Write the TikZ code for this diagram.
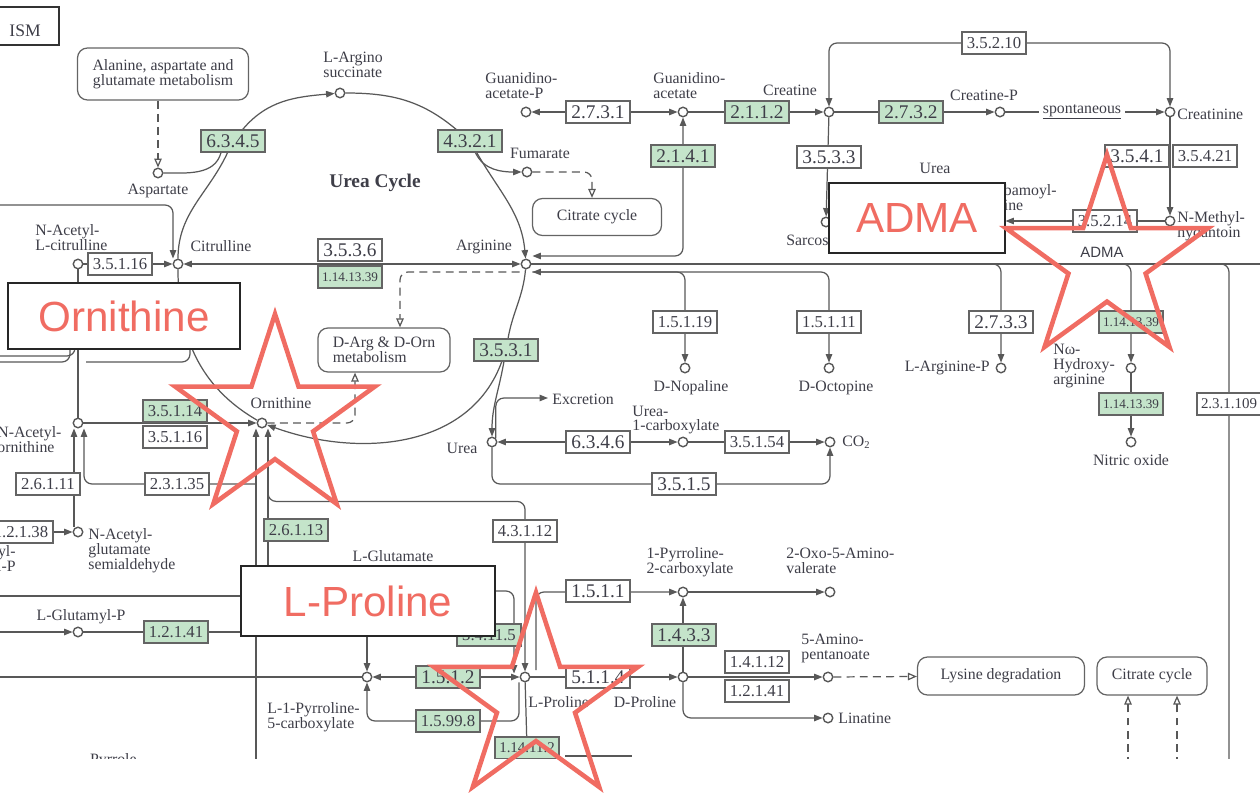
\documentclass[tikz,border=0pt]{standalone}
\usepackage{fontspec}
\setmainfont{Liberation Serif}
\newfontfamily\hlsans{Liberation Sans}
\usetikzlibrary{arrows.meta,calc,shapes.geometric,backgrounds}
\definecolor{keggreen}{RGB}{196,228,202}
\definecolor{lngray}{RGB}{88,88,88}
\definecolor{bxgray}{RGB}{100,100,100}
\definecolor{txgray}{RGB}{62,62,72}
\definecolor{hlred}{RGB}{240,108,98}
\tikzset{
  cpd/.style={circle,draw=lngray,fill=white,line width=0.8pt,minimum size=0.19cm,inner sep=0pt},
  enz/.style={draw=bxgray,fill=white,line width=0.7pt,minimum width=1.28cm,minimum height=0.44cm,inner sep=0pt,text=txgray,font=\fontsize{11}{11}\selectfont},
  genz/.style={enz,fill=keggreen},
  n5/.style={font=\fontsize{9.5}{10}\selectfont},
  n6/.style={font=\fontsize{8.5}{9}\selectfont},
  n7/.style={font=\fontsize{7.5}{8}\selectfont},
  mapbox/.style={draw=bxgray,fill=white,line width=0.7pt,rounded corners=0.2cm,align=center,text=txgray,font=\fontsize{9}{8.5}\selectfont},
  lbl/.style={inner sep=0pt,align=center,text=txgray,font=\fontsize{9}{8.5}\selectfont},
  rxn/.style={draw=lngray,line width=0.7pt,rounded corners=0.16cm},
  rel/.style={rxn,dash pattern=on 4.5pt off 3pt},
  relto/.style={rel,-{Triangle[open,length=1.8mm,width=1.5mm]}},
  relfrom/.style={rel,{Triangle[open,length=1.8mm,width=1.5mm]}-},
  hlbox/.style={draw=black!85,fill=white,line width=0.9pt,text=hlred,font=\hlsans\fontsize{24}{24}\selectfont},
  hlstar/.style={star,star points=5,star point ratio=2.618,draw=hlred,line width=2.6pt,inner sep=0pt},
  >={Triangle[length=1.7mm,width=1.3mm]}
}

\begin{document}
\begin{tikzpicture}[x=0.02cm,y=-0.02cm]
  \useasboundingbox (0,0) rectangle (1260,794);

  % title and linked maps
  \node[draw=black!80,line width=1.3pt,minimum width=1.4cm,minimum height=0.76cm] (ttl) at (24,26) {};
  \node[lbl,font=\fontsize{10}{10}\selectfont,anchor=east] (ttltxt) at (41,31) {ISM};
  \node[mapbox,minimum width=3.42cm,minimum height=1.04cm] (alabox) at (163,74) {Alanine, aspartate and\\glutamate metabolism};
  \node[mapbox,minimum width=2.58cm,minimum height=0.74cm] (cc1) at (597,217) {Citrate cycle};
  \node[mapbox,minimum width=2.64cm,minimum height=0.88cm,align=left] (darg) at (384,350) {D-Arg \& D-Orn\\metabolism};
  \node[mapbox,minimum width=3.34cm,minimum height=0.76cm] (lysbox) at (1001,676) {Lysine degradation};
  \node[mapbox,minimum width=2.2cm,minimum height=0.76cm] (cc2) at (1152,676) {Citrate cycle};
  \node[lbl,font=\bfseries\fontsize{11}{11}\selectfont] (ucyc) at (375,183) {Urea Cycle};

  % compounds
  \node[cpd] (asp) at (158,173) {};
  \node[cpd] (argsuc) at (340,93) {};
  \node[cpd] (fum) at (527,172) {};
  \node[cpd] (cit) at (178,264) {};
  \node[cpd] (nacit) at (78,264) {};
  \node[cpd] (arg) at (526,264) {};
  \node[cpd] (guap) at (526,112) {};
  \node[cpd] (gua) at (683,112) {};
  \node[cpd] (cre) at (829,112) {};
  \node[cpd] (crep) at (1000,112) {};
  \node[cpd] (crn) at (1170,112) {};
  \node[cpd] (nmh) at (1170,221) {};
  \node[cpd] (sar) at (826,222) {};
  \node[cpd] (carsar) at (1000,221) {};
  \node[cpd] (orn) at (262,423) {};
  \node[cpd] (naorn) at (78,423) {};
  \node[cpd] (nagsa) at (78,532) {};
  \node[cpd] (urea) at (492,442) {};
  \node[cpd] (ureac) at (683,442) {};
  \node[cpd] (co2) at (830,442) {};
  \node[cpd] (dnop) at (685,368) {};
  \node[cpd] (doct) at (829,368) {};
  \node[cpd] (argp) at (1001,368) {};
  \node[cpd] (nohar) at (1131,368) {};
  \node[cpd] (nitox) at (1131,442) {};
  \node[cpd] (glup) at (78,632) {};
  \node[cpd] (p5c) at (367,677) {};
  \node[cpd] (pro) at (525,677) {};
  \node[cpd] (dpro) at (683,677) {};
  \node[cpd] (p2c) at (683,592) {};
  \node[cpd] (oxo) at (830,592) {};
  \node[cpd] (amp) at (828,677) {};
  \node[cpd] (lin) at (828,718) {};

  % compound labels
  \node[lbl] (l-asp) at (158,191) {Aspartate};
  \node[lbl,anchor=west,align=left] (l-argsuc) at (323,65) {L-Argino\\succinate};
  \node[lbl] (l-fum) at (540,153) {Fumarate};
  \node[lbl] (l-cit) at (221,246) {Citrulline};
  \node[lbl,anchor=west,align=left] (l-nacit) at (35,238) {N-Acetyl-\\L-citrulline};
  \node[lbl] (l-arg) at (484,247) {Arginine};
  \node[lbl,anchor=west,align=left] (l-guap) at (485,86) {Guanidino-\\acetate-P};
  \node[lbl,anchor=west,align=left] (l-gua) at (653,86) {Guanidino-\\acetate};
  \node[lbl] (l-cre) at (790,90) {Creatine};
  \node[lbl] (l-crep) at (984,95) {Creatine-P};
  \node[lbl,anchor=west] (l-crn) at (1177,114) {Creatinine};
  \node[lbl,anchor=west,align=left] (l-nmh) at (1177,226) {N-Methyl-\\hydantoin};
  \node[lbl] (l-urea2) at (935,168) {Urea};
  \node[lbl,anchor=west,align=left] (l-carsar) at (964,198) {N-Carbamoyl-\\sarcosine};
  \node[lbl,anchor=west] (l-sar) at (786,240) {Sarcosine};
  \node[lbl] (l-orn) at (281,403) {Ornithine};
  \node[lbl,anchor=west,align=left] (l-naorn) at (-3,440) {N-Acetyl-\\ornithine};
  \node[lbl,anchor=north west,align=left] (l-nagsa) at (88,528) {N-Acetyl-\\glutamate\\semialdehyde};
  \node[lbl,anchor=east,align=right] (l-nagp) at (16,560) {N-Acetyl-\\glutamyl-P};
  \node[lbl] (l-glup) at (81,617) {L-Glutamyl-P};
  \node[lbl,anchor=west,align=left] (l-p5c) at (267,717) {L-1-Pyrroline-\\5-carboxylate};
  \node[lbl] (l-pyr) at (116,761) {Pyrrole-};
  \node[lbl] (l-glu) at (393,556) {L-Glutamate};
  \node[lbl] (l-urea) at (462,448) {Urea};
  \node[lbl,anchor=west] (l-excr) at (552,399) {Excretion};
  \node[lbl,anchor=west,align=left] (l-ureac) at (632,420) {Urea-\\1-carboxylate};
  \node[lbl,anchor=west] (l-co2) at (842,442) {CO\textsubscript{2}};
  \node[lbl] (l-dnop) at (691,388) {D-Nopaline};
  \node[lbl] (l-doct) at (836,388) {D-Octopine};
  \node[lbl,anchor=east] (l-argp) at (990,368) {L-Arginine-P};
  \node[lbl,anchor=west,align=left] (l-nohar) at (1053,366) {Nω-\\Hydroxy-\\arginine};
  \node[lbl] (l-nitox) at (1131,460) {Nitric oxide};
  \node[lbl,align=left] (l-p2c) at (690,562) {1-Pyrroline-\\2-carboxylate};
  \node[lbl,anchor=west,align=left] (l-oxo) at (786,561) {2-Oxo-5-Amino-\\valerate};
  \node[lbl,anchor=west,align=left] (l-amp) at (801,648) {5-Amino-\\pentanoate};
  \node[lbl,anchor=west] (l-lin) at (838,718) {Linatine};
  \node[lbl,anchor=west] (l-pro) at (528,702) {L-Proline};
  \node[lbl] (l-dpro) at (645,702) {D-Proline};
  \node[lbl,fill=white,inner xsep=2pt] (l-spont) at (1082,112) {\underline{spontaneous}};
  \node[lbl,font=\hlsans\fontsize{8.5}{9}\selectfont] (l-adma) at (1102,252) {ADMA};

  % enzymes
  \node[genz] (e6345) at (233,141) {6.3.4.5};
  \node[genz] (e4321) at (470,141) {4.3.2.1};
  \node[enz] (e2731) at (598,112) {2.7.3.1};
  \node[genz] (e2112) at (757,112) {2.1.1.2};
  \node[genz] (e2141) at (683,156) {2.1.4.1};
  \node[genz] (e2732) at (911,112) {2.7.3.2};
  \node[enz,n5] (e35210) at (994,43) {3.5.2.10};
  \node[enz] (e3533) at (829,157) {3.5.3.3};
  \node[enz] (e3541) at (1137,156) {3.5.4.1};
  \node[enz,n5] (e35421) at (1205,156) {3.5.4.21};
  \node[enz,n5] (e35214) at (1105,221) {3.5.2.14};
  \node[enz,n5] (e35116a) at (120,264) {3.5.1.16};
  \node[enz] (e3536) at (350,250) {3.5.3.6};
  \node[genz,n7] (e1141339a) at (350,277) {1.14.13.39};
  \node[enz,n5] (e15119) at (685,322) {1.5.1.19};
  \node[enz,n5] (e15111) at (829,322) {1.5.1.11};
  \node[enz] (e2733) at (1001,322) {2.7.3.3};
  \node[genz,n7] (e1141339b) at (1131,322) {1.14.13.39};
  \node[genz,n7] (e1141339c) at (1131,404) {1.14.13.39};
  \node[enz,n6] (e231109) at (1229,404) {2.3.1.109};
  \node[genz] (e3531) at (506,350) {3.5.3.1};
  \node[enz] (e6346) at (598,442) {6.3.4.6};
  \node[enz,n5] (e35154) at (757,442) {3.5.1.54};
  \node[enz] (e3515) at (684,484) {3.5.1.5};
  \node[enz,n5] (e43112) at (525,531) {4.3.1.12};
  \node[genz,n5] (e35114) at (175,411) {3.5.1.14};
  \node[enz,n5] (e35116b) at (175,437) {3.5.1.16};
  \node[enz,n5] (e26111) at (48,484) {2.6.1.11};
  \node[enz,n5] (e23135) at (177,484) {2.3.1.35};
  \node[enz,n5] (e12138) at (21,532) {1.2.1.38};
  \node[genz,n5] (e26113) at (296,530) {2.6.1.13};
  \node[genz,n5] (e12141a) at (176,632) {1.2.1.41};
  \node[genz,n5] (e34115) at (489,635) {3.4.11.5};
  \node[genz] (e1512) at (448,677) {1.5.1.2};
  \node[genz,n5] (e15998) at (448,721) {1.5.99.8};
  \node[enz] (e5114) at (598,677) {5.1.1.4};
  \node[genz,n6] (e114112) at (527,748) {1.14.11.2};
  \node[enz] (e1511) at (598,591) {1.5.1.1};
  \node[genz] (e1433) at (684,635) {1.4.3.3};
  \node[enz,n5] (e14112) at (757,662) {1.4.1.12};
  \node[enz,n5] (e12141b) at (757,691) {1.2.1.41};

  % free ends
  \coordinate (lft205) at (-5,205);
  \coordinate (lft356) at (-5,356);
  \coordinate (lft362) at (-5,362);
  \coordinate (lft532) at (-5,532);
  \coordinate (lft596) at (-5,596);
  \coordinate (lft632) at (-5,632);
  \coordinate (lft677) at (-5,677);
  \coordinate (ob1) at (75,330);
  \coordinate (ob2) at (70,330);
  \coordinate (ob3s) at (86,362);
  \coordinate (ob3) at (190,330);
  \coordinate (rgt264) at (1270,264);
  \coordinate (excr) at (548,398);
  \coordinate (obot) at (256,765);
  \coordinate (j23135) at (256,484);
  \coordinate (glu1) at (268,600);
  \coordinate (glu2) at (300,632);
  \coordinate (glu3) at (300,596);
  \coordinate (glu4) at (480,591);
  \coordinate (glu5) at (367,610);
  \coordinate (rbot) at (1229,765);
  \coordinate (cc2a) at (1128,765);
  \coordinate (cc2b) at (1177,765);
  \coordinate (hyp1) at (565,756);
  \coordinate (hyp2) at (632,756);

  \begin{scope}[on background layer]
    % urea cycle
    \draw[rxn] (cit) to[out=90,in=-115] (e6345);
    \draw[rxn,->] (e6345) to[out=50,in=185] (argsuc);
    \draw[rxn] (argsuc) to[out=0,in=140] (e4321);
    \draw[rxn,->] (e4321) to[out=-60,in=95] (arg);
    \draw[rxn,->] (e4321) to[out=-65,in=180] (fum);
    \draw[rxn] (arg) to[out=-95,in=80] (e3531);
    \draw[rxn,->] (e3531) to[out=-110,in=-20] (orn);
    \draw[rxn] (orn) to[out=150,in=-90] (cit);
    \draw[rxn] (asp) to[out=0,in=-105] ($(e6345.south)+(-12,0)$);
    \draw[relto] (alabox.south -| asp) -- (asp);
    \draw[relto] (fum) -| ($(cc1.north)+(-5,0)$);
    \draw[rxn,->] (lft205) -| ($(cit.north)+(-5,0)$);
    \draw[rxn,->] (nacit) -- (cit);
    \draw[rxn,<->] (arg) -- (cit);
    \draw[relto] ($(arg.west)+(-1,8)$) -| ($(darg.north)+(16,0)$);
    \draw[relfrom] ($(darg.south)+(-29,0)$) |- (orn);

    % creatine
    \draw[rxn,<->] (gua) -- (guap);
    \draw[rxn,->] (gua) -- (cre);
    \draw[rxn,->] (cre) -- (crep);
    \draw[rxn,->] (crep) -- (crn);
    \draw[rxn,<->] (cre) |- (e35210.center) -| (crn);
    \draw[rxn,->] (cre) -- (sar);
    \draw[rxn,->] (crn) -- (nmh);
    \draw[rxn,->] (nmh) -- (carsar);
    \draw[rxn,<->] ($(arg.east)+(1,-8)$) -| (e2141.center) -- (gua);

    % arginine branches
    \draw[rxn] (arg) -- (rgt264);
    \draw[rxn,<->] ($(arg.east)+(1,8)$) -| (e15119.center) -- (dnop);
    \draw[rxn,->] ($(arg.east)+(1,8)$) -| (e15111) -- (doct);
    \draw[rxn,->] (arg) -| (e2733) -- (argp);
    \draw[rxn,->] (arg) -| (e1141339b) -- (nohar);
    \draw[rxn,->] (nohar) -- (e1141339c) -- (nitox);
    \draw[rxn] (arg) -| (e231109) -- (rbot);

    % urea
    \draw[rxn,->] (e3531) to[out=-100,in=90] (urea);
    \draw[rxn,->] (urea.north east) |- (excr);
    \draw[rxn,<->] (urea) -- (ureac);
    \draw[rxn,->] (ureac) -- (co2);
    \draw[rxn,->] (urea) |- (e3515) -| (co2);

    % ornithine side
    \draw[rxn] (nacit) -- (naorn);
    \draw[rxn] (lft356) -| (ob1);
    \draw[rxn] (lft362) -| (ob2);
    \draw[rxn] (ob3s) -| (ob3);
    \draw[rxn,->] (naorn) -- (orn);
    \draw[rxn,->] ($(nagsa.north)+(-4,0)$) -- ($(naorn.south)+(-4,0)$);
    \draw[rxn,->] (j23135) -- (e23135) -| ($(naorn.south)+(6,0)$);
    \draw[rxn,->] (lft532) -- (nagsa);
    \draw[rxn,->] (obot) -- ($(orn.south)+(-6,0)$);
    \draw[rxn,->] (glu1) -- ($(orn.south)+(6,0)$);
    \draw[rxn,->] ($(orn.south)+(6,8)$) |- ($(e43112.north)+(0,-18)$) -- (pro);

    % proline
    \draw[rxn,->] (lft632) -- (glup);
    \draw[rxn] (glup) -- (glu2);
    \draw[rxn] (lft596) -- (glu3);
    \draw[rxn] (lft677) -- (p5c);
    \draw[rxn,->] (glu5) -- (p5c);
    \draw[rxn,<->] (p5c) -- (pro);
    \draw[rxn,->] ($(pro.south)+(-6,0)$) |- (e15998) -| (p5c);
    \draw[rxn,->] (glu4) -| ($(pro.north)+(-11,2)$);
    \draw[rxn,->] ($(pro)+(11,-7)$) |- (p2c);
    \draw[rxn] (pro) -- (e114112);
    \draw[rxn] (hyp1) -- (hyp2);
    \draw[rxn,->] (pro) -- (dpro);
    \draw[rxn,->] (dpro) -- (p2c);
    \draw[rxn,->] (p2c) -- (oxo);
    \draw[rxn,->] (dpro) -- (amp);
    \draw[rxn,->] (dpro) |- (lin);
    \draw[relto] (amp) -- (lysbox);
    \draw[relto] (cc2a) -- (cc2.south -| cc2a);
    \draw[relto] (cc2b) -- (cc2.south -| cc2b);
  \end{scope}

  % crop of the map
  \fill[white] (-10,759) rectangle (1270,800);

  % highlighted metabolites
  \node[hlbox,minimum width=4.64cm,minimum height=1.32cm] (hl-orn) at (124,316) {Ornithine};
  \node[hlbox,minimum width=3.52cm,minimum height=1.4cm] (hl-adma) at (917,218) {ADMA};
  \node[hlbox,minimum width=5.08cm,minimum height=1.4cm] (hl-pro) at (368,601) {L-Proline};
  \node[hlstar,minimum size=4.2cm] (st-orn) at (275,419) {};
  \node[hlstar,minimum size=4.25cm] (st-adma) at (1107,261) {};
  \node[hlstar,minimum size=4.3cm] (st-pro) at (536,700) {};
\end{tikzpicture}
\end{document}
